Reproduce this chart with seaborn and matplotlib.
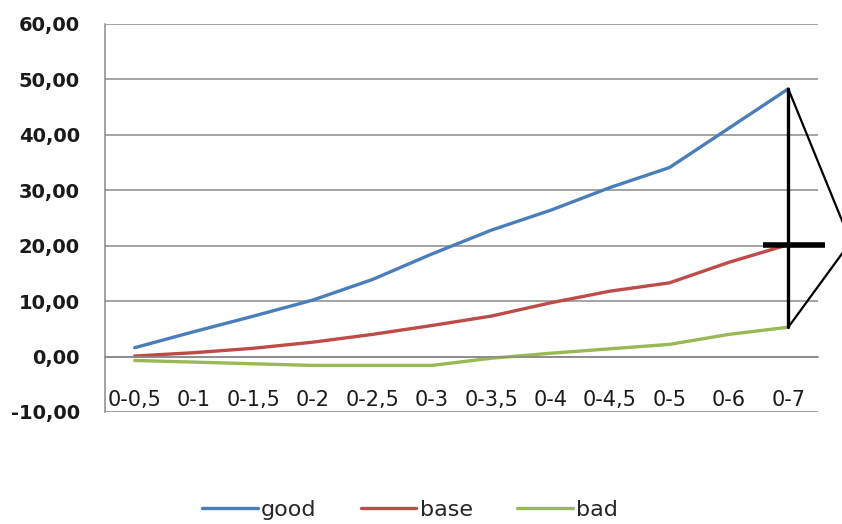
import matplotlib
matplotlib.use("Agg")
import matplotlib.pyplot as plt
import seaborn as sns
import pandas as pd
import numpy as np

categories = ["0-0,5", "0-1", "0-1,5", "0-2", "0-2,5", "0-3", "0-3,5",
              "0-4", "0-4,5", "0-5", "0-6", "0-7"]
good = [1.6, 4.5, 7.3, 10.2, 13.9, 18.5, 22.8, 26.4, 30.5, 34.1, 41.2, 48.3]
base = [0.1, 0.7, 1.5, 2.6, 4.0, 5.6, 7.3, 9.7, 11.8, 13.3, 17.0, 20.2]
bad = [-0.7, -1.0, -1.3, -1.6, -1.6, -1.6, -0.3, 0.6, 1.4, 2.2, 4.0, 5.3]
series_names = ["good", "base", "bad"]
y_ticks = [-10, 0, 10, 20, 30, 40, 50, 60]

df = pd.DataFrame({
    "cat": categories * 3,
    "val": good + base + bad,
    "series": np.repeat(series_names, len(categories)),
})
palette = {"good": "#4A7EBB", "base": "#BE4B48", "bad": "#98B954"}

sns.set_style("white")
plt.rcParams["font.family"] = ["DejaVu Sans"]

fig = plt.figure(figsize=(8.42, 5.24), dpi=100)
ax = fig.add_axes([105 / 842, 1 - 412 / 524, (818 - 105) / 842, (412 - 24) / 524])

sns.lineplot(data=df, x="cat", y="val", hue="series", palette=palette,
             sort=False, linewidth=2.4, ax=ax, legend=True)

n = len(categories)
ax.set_xlim(-0.5, n - 0.5)
ax.set_ylim(-10, 60)
ax.set_yticks(y_ticks)
ax.set_yticklabels([f"{v:.2f}".replace(".", ",") for v in y_ticks],
                   fontsize=14, fontweight="bold", color="#1a1a1a")
ax.yaxis.grid(True, color="#8a8a8a", linewidth=1.1)
ax.tick_params(axis="y", length=8, color="#8a8a8a", width=1.1, pad=10)

for s in ["top", "right"]:
    ax.spines[s].set_visible(False)
ax.spines["left"].set_color("#8a8a8a")
ax.spines["left"].set_linewidth(1.1)
ax.spines["bottom"].set_position(("data", 0))
ax.spines["bottom"].set_color("#8a8a8a")
ax.spines["bottom"].set_linewidth(1.1)

ax.set_xticks(range(n))
ax.set_xticklabels(categories, fontsize=15, color="#1a1a1a")
ax.set_xticks(np.arange(0.5, n, 1.0), minor=True)
ax.tick_params(axis="x", which="major", length=0, pad=24)
ax.tick_params(axis="x", which="minor", length=6, color="#8a8a8a", width=1.1,
               direction="out")
ax.set_xlabel("")
ax.set_ylabel("")

# annotation shape at last category
xl = n - 1
ax.plot([xl, xl], [bad[-1], good[-1]], color="black", linewidth=2.4,
        clip_on=False, zorder=5)
ax.plot([xl - 0.42, xl + 0.62], [base[-1], base[-1]], color="black",
        linewidth=4, clip_on=False, zorder=5, solid_capstyle="butt")
tip_x = xl + 1.05
ax.plot([xl, tip_x, xl], [good[-1], base[-1] + 0.5, bad[-1]], color="black",
        linewidth=1.6, clip_on=False, zorder=5)

# legend at the bottom
handles, labels = ax.get_legend_handles_labels()
ax.get_legend().remove()
fig.legend(handles, labels, loc="center", bbox_to_anchor=(0.487, 0.027),
           ncol=3, frameon=False, fontsize=16, handlelength=2.5,
           handletextpad=0.15, columnspacing=2.0)

fig.savefig("out.png", dpi=100)
